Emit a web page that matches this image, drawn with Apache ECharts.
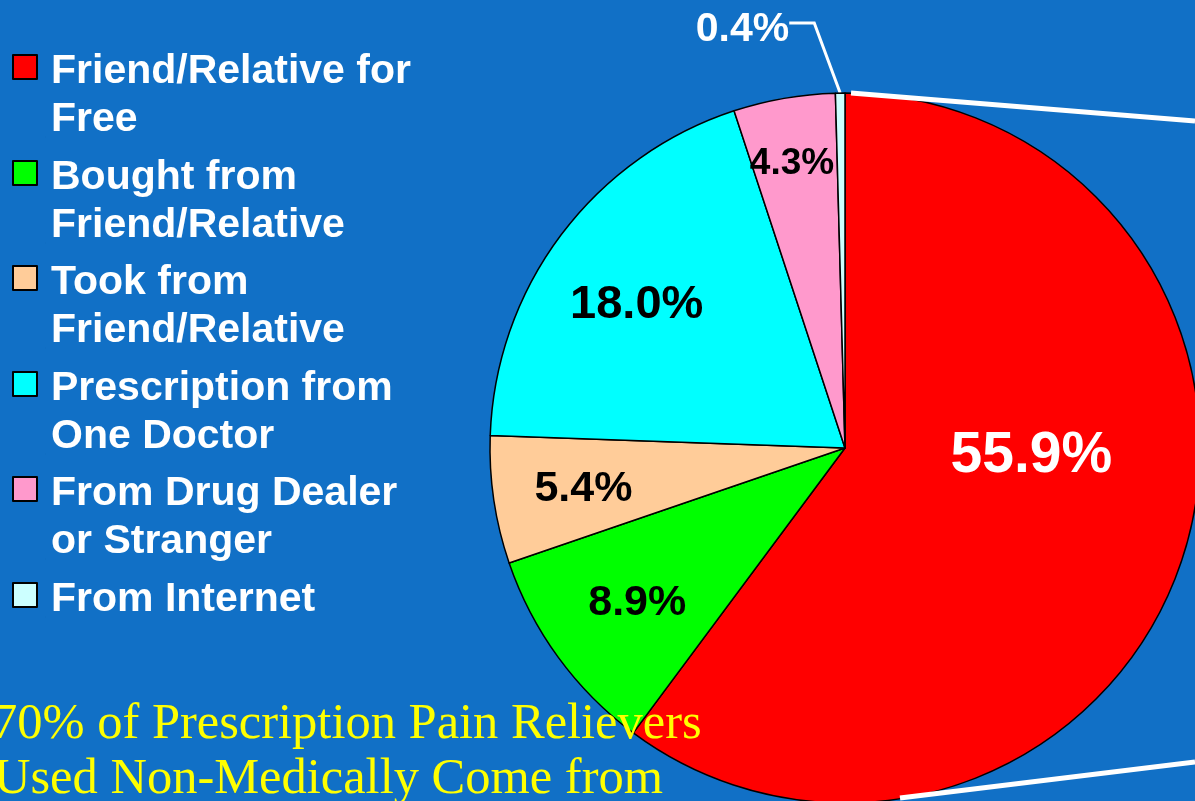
<!DOCTYPE html>
<html>
<head>
<meta charset="utf-8">
<title>Sources of Prescription Pain Relievers</title>
<script src="https://cdn.jsdelivr.net/npm/echarts@6/dist/echarts.min.js"></script>
<style>
  html, body { margin: 0; padding: 0; background: #1170c6; }
  #chart { width: 1195px; height: 801px; }
</style>
</head>
<body>
<div id="chart"></div>
<script>
// Where the pain relievers came from (percent of non-medical users)
const categories = [
  'Friend/Relative for Free',
  'Bought from Friend/Relative',
  'Took from Friend/Relative',
  'Prescription from One Doctor',
  'From Drug Dealer or Stranger',
  'From Internet'
];
const legendText = [
  'Friend/Relative for\nFree',
  'Bought from\nFriend/Relative',
  'Took from\nFriend/Relative',
  'Prescription from\nOne Doctor',
  'From Drug Dealer\nor Stranger',
  'From Internet'
];
const shares = [55.9, 8.9, 5.4, 18.0, 4.3, 0.4];
const sliceColors = ['#ff0000', '#00ff00', '#ffcc99', '#00ffff', '#ff99cc', '#ccffff'];

// label styling per slice
const labelColors = ['#ffffff', '#000000', '#000000', '#000000', '#000000', '#ffffff'];
const labelSizes = [57, 43, 43, 47, 37, 41];
// nudges from the default spot of each label
const labelNudge = [[15, -48], [-62, 49], [-83, 15], [-64, -35], [-22, -106], [-20, 7]];
// the small outside label's leader bends left by this much
const leaderShift = 25;

const headline = [
  '70% of Prescription Pain Relievers',
  'Used Non-Medically Come from'
];

const pieCenter = [845, 448];
const pieRadius = 355;

// legend rows: top edge of each row and swatch column
const legendLeft = 12;
const legendTops = [55, 161, 266, 372, 477, 583];

const chart = echarts.init(document.getElementById('chart'), null, { renderer: 'canvas' });

const pieData = categories.map(function (name, i) {
  const item = {
    name: name,
    value: shares[i],
    itemStyle: { color: sliceColors[i] },
    label: {
      color: labelColors[i],
      fontSize: labelSizes[i]
    }
  };
  if (i === categories.length - 1) {
    item.label.position = 'outside';
    item.labelLine = {
      show: true,
      length: 70,
      length2: 25,
      smooth: false,
      lineStyle: { color: '#ffffff', width: 3 }
    };
  }
  return item;
});

// One legend block per row so each swatch sits level with the first text line.
// The swatch path carries an invisible corner point that sets the row box size.
const legends = categories.map(function (name, i) {
  const lines = legendText[i].split('\n').length;
  const boxH = lines > 1 ? 82 : 34;
  return {
    orient: 'vertical',
    left: legendLeft,
    top: legendTops[i] - 7,
    padding: 0,
    itemWidth: 33,
    itemHeight: boxH,
    selectedMode: false,
    icon: 'path://M0 0H24V24H0Z M33 ' + boxH + 'H33.01',
    data: [name],
    formatter: function () { return legendText[i]; },
    itemStyle: { borderColor: '#000000', borderWidth: 2 },
    textStyle: {
      color: '#ffffff',
      fontFamily: 'Liberation Sans, Arial, sans-serif',
      fontWeight: 'bold',
      fontSize: 41,
      lineHeight: 48
    }
  };
});

const option = {
  backgroundColor: '#1170c6',
  animation: false,
  legend: legends,
  series: [{
    type: 'pie',
    center: pieCenter,
    radius: pieRadius,
    startAngle: 90,
    clockwise: true,
    silent: true,
    avoidLabelOverlap: false,
    data: pieData,
    itemStyle: { borderColor: '#000000', borderWidth: 1.5 },
    label: {
      show: true,
      position: 'inside',
      fontFamily: 'Liberation Sans, Arial, sans-serif',
      fontWeight: 'bold',
      formatter: function (p) { return p.value.toFixed(1) + '%'; }
    },
    labelLine: { show: false },
    labelLayout: function (p) {
      const n = labelNudge[p.dataIndex];
      if (!n) { return {}; }
      const out = { dx: n[0], dy: n[1] };
      const pts = p.labelLinePoints;
      if (pts && pts.length === 3) {
        // slant the first leg and slide the elbow left with the label
        out.labelLinePoints = [
          pts[0],
          [pts[1][0] - leaderShift, pts[1][1]],
          [pts[2][0] - leaderShift, pts[2][1]]
        ];
      }
      return out;
    }
  }],
  graphic: [
    // connector lines running off to the right from the large slice
    {
      type: 'line',
      z: 20,
      shape: { x1: pieCenter[0] + 6, y1: pieCenter[1] - pieRadius, x2: 1195, y2: 121 },
      style: { stroke: '#ffffff', lineWidth: 5 }
    },
    {
      type: 'line',
      z: 20,
      shape: { x1: 900, y1: 798, x2: 1195, y2: 762 },
      style: { stroke: '#ffffff', lineWidth: 5 }
    },
    {
      type: 'text',
      z: 30,
      x: -8,
      y: 725,
      style: {
        text: headline[0],
        fill: '#ffff00',
        font: '50.5px "Liberation Serif", "Times New Roman", serif',
        verticalAlign: 'middle'
      }
    },
    {
      type: 'text',
      z: 30,
      x: -6,
      y: 780,
      style: {
        text: headline[1],
        fill: '#ffff00',
        font: '50.5px "Liberation Serif", "Times New Roman", serif',
        verticalAlign: 'middle'
      }
    }
  ]
};

chart.setOption(option);
</script>
</body>
</html>
